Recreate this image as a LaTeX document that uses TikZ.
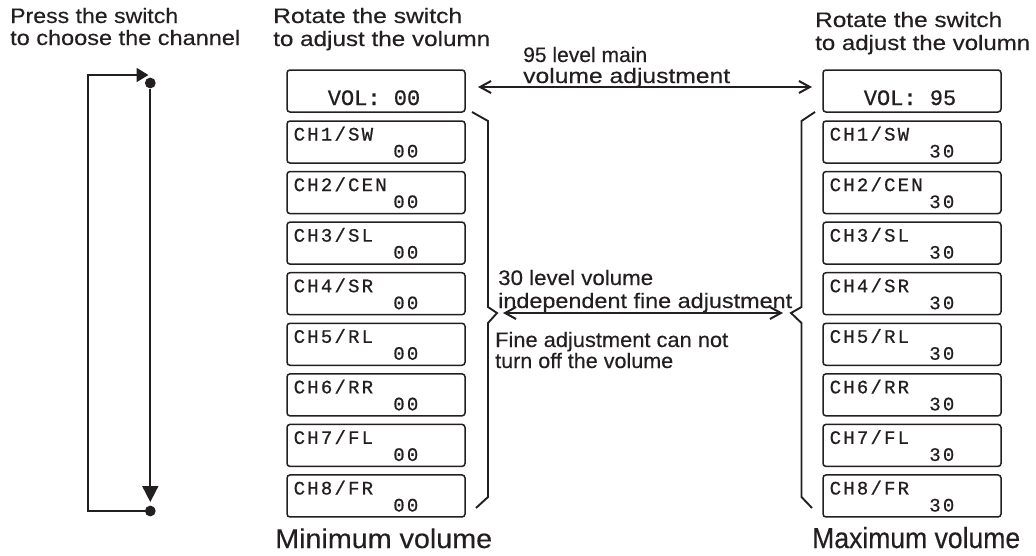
\documentclass[tikz,border=0pt]{standalone}
\usepackage{fontspec}
\usepackage{graphicx}
\usetikzlibrary{arrows.meta}
\newfontfamily\hfont{Liberation Sans}[FakeBold=0.3]
\newfontfamily\lcdfont{Liberation Mono}[LetterSpace=11.6,FakeBold=0.7]
\newfontfamily\lcdbig{Liberation Mono}[FakeBold=0.7]
\definecolor{ink}{RGB}{35,31,32}
\newcommand\fitw[2]{\resizebox{#1}{\height}{#2}}
\begin{document}
\begin{tikzpicture}[x=1pt,y=-1pt,
  txt/.style={anchor=base west, inner sep=0pt, text=ink, font=\hfont\fontsize{21}{24}\selectfont},
  bigtxt/.style={txt, font=\hfont\fontsize{27}{30}\selectfont},
  lcdbox/.style={draw=ink, line width=1.5pt, rounded corners=3pt, minimum width=178pt, minimum height=42pt, inner sep=0pt, outer sep=0pt, anchor=north west},
  lcdlab/.style={anchor=base west, inner sep=0pt, text=ink, font=\lcdfont\fontsize{19}{21}\selectfont},
  lcdval/.style={lcdlab, anchor=base east},
  lcdvol/.style={anchor=base, inner sep=0pt, text=ink, font=\lcdbig\fontsize{22}{24}\selectfont},
  brace/.style={draw=ink, line width=1.9pt, line join=miter},
  dbl/.style={draw=ink, line width=2pt, {Straight Barb[length=11pt,width=12pt]}-{Straight Barb[length=11pt,width=12pt]}},
  loopline/.style={draw=ink, line width=1.8pt},
  dotn/.style={circle, fill=ink, draw=none, minimum size=10.8pt, inner sep=0pt}
]
\useasboundingbox (0,0) rectangle (1036,555);

% headings
\node[txt] (p1) at (10,23) {\fitw{168pt}{Press the switch}};
\node[txt] (p2) at (10,45) {\fitw{230pt}{to choose the channel}};
\node[txt] (r1) at (273,23) {\fitw{189pt}{Rotate the switch}};
\node[txt] (r2) at (273,46) {\fitw{217pt}{to adjust the volumn}};
\node[txt] (s1) at (815,27) {\fitw{187pt}{Rotate the switch}};
\node[txt] (s2) at (815,50) {\fitw{215pt}{to adjust the volumn}};
\node[txt] (m1) at (523,62) {\fitw{124pt}{95 level main}};
\node[txt] (m2) at (523,83) {\fitw{207pt}{volume adjustment}};
\node[txt] (f1) at (498,285) {\fitw{155pt}{30 level volume}};
\node[txt] (f2) at (498,308) {\fitw{294pt}{independent fine adjustment}};
\node[txt] (g1) at (495,347) {\fitw{233pt}{Fine adjustment can not}};
\node[txt] (g2) at (495,368) {\fitw{178pt}{turn off the volume}};
\node[bigtxt] (minv) at (275,548) {\fitw{217pt}{Minimum volume}};
\node[bigtxt, font=\hfont\fontsize{29}{31}\selectfont] (maxv) at (812,548) {\fitw{208pt}{Maximum volume}};

% volume boxes
\node[lcdbox] (Lvol) at (287,70) {};
\node[lcdvol] (Lvolt) at ([shift={(-2,35)}]Lvol.north) {VOL: 00};
\node[lcdbox] (Rvol) at (823,70) {};
\node[lcdvol] (Rvolt) at ([shift={(-2,35)}]Rvol.north) {VOL: 95};

% channel boxes
\foreach \i/\a/\b in {1/CH1/SW,2/CH2/CEN,3/CH3/SL,4/CH4/SR,5/CH5/RL,6/CH6/RR,7/CH7/FL,8/CH8/FR} {
  \pgfmathsetmacro\ty{121+(\i-1)*50.57}
  \node[lcdbox] (L\i) at (287,\ty) {};
  \node[lcdlab] (La\i) at ([shift={(6.5,19.5)}]L\i.north west) {\a/\b};
  \node[lcdval] (Lv\i) at ([shift={(-46.5,36.5)}]L\i.north east) {00};
  \node[lcdbox] (R\i) at (823,\ty) {};
  \node[lcdlab] (Ra\i) at ([shift={(6.5,19.5)}]R\i.north west) {\a/\b};
  \node[lcdval] (Rv\i) at ([shift={(-46.5,36.5)}]R\i.north east) {30};
}

% braces
\draw[brace] (472,112) -- (488,121) -- (488,307) -- (497,313) -- (488,323) -- (488,497) -- (476,508);
\draw[brace] (815,112) -- (801.5,121) -- (801.5,307) -- (791,313) -- (801.5,323) -- (801.5,497) -- (812,508);

% double arrows
\coordinate (tA) at (478,87);
\coordinate (tB) at (812,87);
\draw[dbl] (tA) -- (tB);
\coordinate (mA) at (503,313);
\coordinate (mB) at (783,313);
\draw[dbl] (mA) -- (mB);

% channel selection loop
\node[dotn] (d1) at (150.3,83) {};
\node[dotn] (d2) at (150.3,511) {};
\coordinate (tl) at (88,75);
\coordinate (bl) at (88,511);
\coordinate (a1) at (148.5,75);
\coordinate (a2) at (150.3,502);
\draw[loopline, -{Triangle[length=12pt,width=14pt]}] (d2) -- (bl) -- (tl) -- (a1);
\draw[loopline, -{Triangle[length=16pt,width=16pt]}] (d1) -- (a2);
\end{tikzpicture}
\end{document}
